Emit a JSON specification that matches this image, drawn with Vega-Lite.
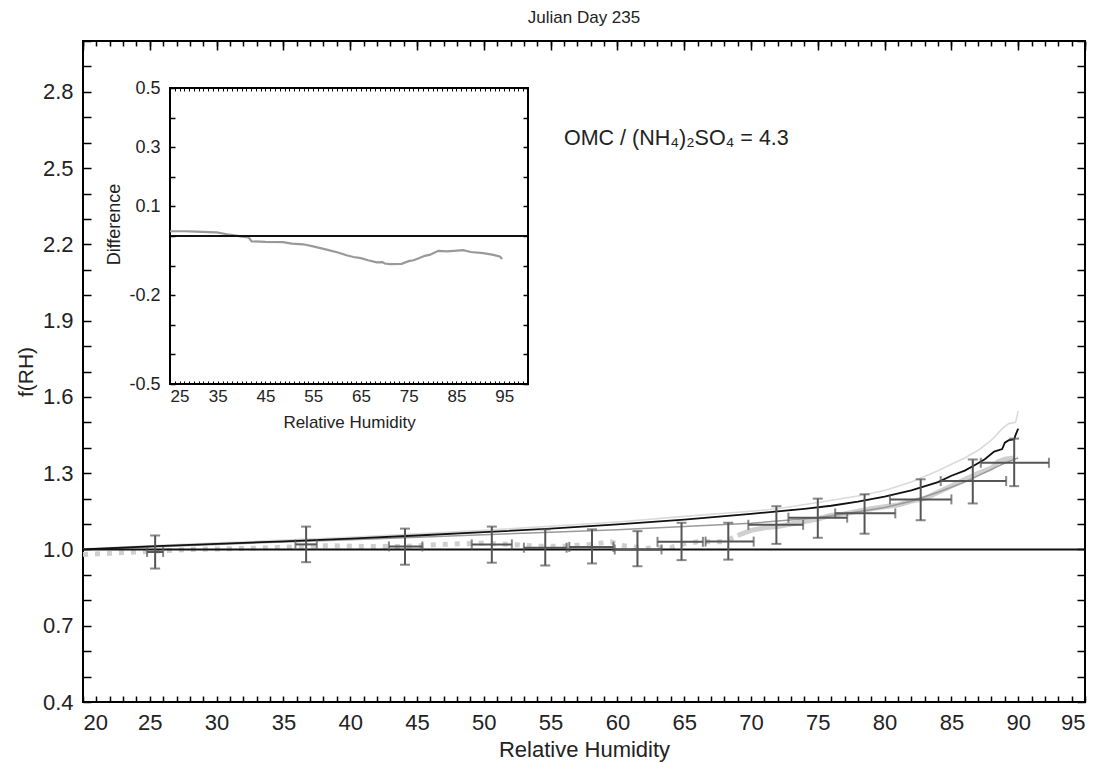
{
  "$schema": "https://vega.github.io/schema/vega-lite/v6.json",
  "padding": {"left": 15, "top": 9, "right": 5, "bottom": 2},
  "width": 1002,
  "height": 661,
  "config": {
    "font": "Liberation Sans",
    "view": {"stroke": "#000", "strokeWidth": 2},
    "axis": {"grid": false, "domain": false, "tickColor": "#000", "tickWidth": 1.5, "labelColor": "#222", "titleColor": "#222", "labelFont": "Liberation Sans", "titleFont": "Liberation Sans", "titleFontWeight": "normal"}
  },
  "title": {"text": "Julian Day 235", "fontSize": 17, "fontWeight": "normal", "offset": 13, "color": "#222", "font": "Liberation Sans"},
  "datasets": {
    "baseline": [{"x1": 20, "x2": 95, "y": 1}],
    "note": [{"rh": 56.0, "f": 2.615, "label": "OMC / (NH₄)₂SO₄ = 4.3"}],
    "model": [
      {"rh": 20, "f": 1.0}, {"rh": 25, "f": 1.012}, {"rh": 30, "f": 1.022}, {"rh": 35, "f": 1.032}, {"rh": 40, "f": 1.043}, {"rh": 45, "f": 1.055}, {"rh": 50, "f": 1.068}, {"rh": 55, "f": 1.082}, {"rh": 60, "f": 1.099}, {"rh": 65, "f": 1.117}, {"rh": 70, "f": 1.14}, {"rh": 72, "f": 1.15}, {"rh": 74, "f": 1.16}, {"rh": 76, "f": 1.172}, {"rh": 78, "f": 1.188}, {"rh": 80, "f": 1.208}, {"rh": 82, "f": 1.232}, {"rh": 84, "f": 1.265}, {"rh": 85, "f": 1.29}, {"rh": 86, "f": 1.31}, {"rh": 86.7, "f": 1.33}, {"rh": 87.5, "f": 1.355}, {"rh": 88.2, "f": 1.385}, {"rh": 88.8, "f": 1.395}, {"rh": 89.0, "f": 1.42}, {"rh": 89.3, "f": 1.43}, {"rh": 89.7, "f": 1.433}, {"rh": 89.8, "f": 1.45}, {"rh": 90.0, "f": 1.475}
    ],
    "upper": [
      {"rh": 20, "f": 1.003}, {"rh": 30, "f": 1.026}, {"rh": 40, "f": 1.048}, {"rh": 50, "f": 1.075}, {"rh": 60, "f": 1.108}, {"rh": 65, "f": 1.13}, {"rh": 70, "f": 1.15}, {"rh": 72, "f": 1.16}, {"rh": 75, "f": 1.185}, {"rh": 78, "f": 1.21}, {"rh": 80, "f": 1.232}, {"rh": 82, "f": 1.265}, {"rh": 84, "f": 1.31}, {"rh": 85, "f": 1.335}, {"rh": 86, "f": 1.36}, {"rh": 87, "f": 1.39}, {"rh": 88, "f": 1.43}, {"rh": 88.8, "f": 1.475}, {"rh": 89.3, "f": 1.495}, {"rh": 89.8, "f": 1.5}, {"rh": 90, "f": 1.545}
    ],
    "mid": [
      {"rh": 20, "f": 1.0}, {"rh": 30, "f": 1.02}, {"rh": 40, "f": 1.038}, {"rh": 50, "f": 1.058}, {"rh": 55, "f": 1.068}, {"rh": 60, "f": 1.078}, {"rh": 65, "f": 1.09}, {"rh": 70, "f": 1.103}, {"rh": 75, "f": 1.125}, {"rh": 78, "f": 1.148}, {"rh": 80, "f": 1.165}, {"rh": 82, "f": 1.19}, {"rh": 84, "f": 1.225}, {"rh": 86, "f": 1.265}, {"rh": 88, "f": 1.315}, {"rh": 89, "f": 1.34}, {"rh": 90, "f": 1.36}
    ],
    "meas_lo": [
      {"rh": 20, "f": 0.98}, {"rh": 22, "f": 0.985}, {"rh": 24, "f": 0.99}, {"rh": 26, "f": 0.995}, {"rh": 28, "f": 1.0}, {"rh": 30, "f": 1.002}, {"rh": 33, "f": 1.005}, {"rh": 36, "f": 1.01}, {"rh": 38, "f": 1.015}, {"rh": 41, "f": 1.012}, {"rh": 44, "f": 1.012}, {"rh": 47, "f": 1.02}, {"rh": 50, "f": 1.025}, {"rh": 52, "f": 1.02}, {"rh": 54, "f": 1.013}, {"rh": 56, "f": 1.013}, {"rh": 58, "f": 1.02}, {"rh": 59.5, "f": 1.03}, {"rh": 60.5, "f": 1.015}, {"rh": 62, "f": 1.005}, {"rh": 64, "f": 1.008}, {"rh": 65, "f": 1.022}, {"rh": 66, "f": 1.03}, {"rh": 68, "f": 1.03}, {"rh": 69, "f": 1.055}
    ],
    "meas_hi": [
      {"rh": 69, "f": 1.055}, {"rh": 70, "f": 1.075}, {"rh": 71, "f": 1.085}, {"rh": 72, "f": 1.09}, {"rh": 73, "f": 1.1}, {"rh": 74, "f": 1.11}, {"rh": 75, "f": 1.12}, {"rh": 76, "f": 1.135}, {"rh": 77, "f": 1.14}, {"rh": 78, "f": 1.15}, {"rh": 79, "f": 1.16}, {"rh": 80, "f": 1.168}, {"rh": 81, "f": 1.175}, {"rh": 82, "f": 1.19}, {"rh": 83, "f": 1.2}, {"rh": 84, "f": 1.225}, {"rh": 85, "f": 1.25}, {"rh": 86, "f": 1.275}, {"rh": 87, "f": 1.3}, {"rh": 88, "f": 1.32}, {"rh": 88.5, "f": 1.345}, {"rh": 89, "f": 1.355}, {"rh": 89.7, "f": 1.36}
    ],
    "eb": [
      {"rh": 25.4, "rlo": 24.8, "rhi": 26.0, "f": 0.99, "flo": 0.925, "fhi": 1.055},
      {"rh": 36.7, "rlo": 35.9, "rhi": 37.5, "f": 1.02, "flo": 0.95, "fhi": 1.09},
      {"rh": 44.1, "rlo": 42.9, "rhi": 45.4, "f": 1.012, "flo": 0.94, "fhi": 1.082},
      {"rh": 50.6, "rlo": 49.1, "rhi": 52.1, "f": 1.02, "flo": 0.948, "fhi": 1.09},
      {"rh": 54.6, "rlo": 53.0, "rhi": 56.2, "f": 1.007, "flo": 0.937, "fhi": 1.079},
      {"rh": 58.1, "rlo": 56.4, "rhi": 59.7, "f": 1.01, "flo": 0.945, "fhi": 1.079},
      {"rh": 61.5, "rlo": 59.8, "rhi": 63.3, "f": 1.0, "flo": 0.934, "fhi": 1.072},
      {"rh": 64.8, "rlo": 63.0, "rhi": 66.4, "f": 1.03, "flo": 0.958, "fhi": 1.105},
      {"rh": 68.3, "rlo": 66.6, "rhi": 70.2, "f": 1.031, "flo": 0.96, "fhi": 1.105},
      {"rh": 71.9, "rlo": 69.8, "rhi": 73.9, "f": 1.097, "flo": 1.022, "fhi": 1.17},
      {"rh": 75.0, "rlo": 72.8, "rhi": 77.2, "f": 1.125, "flo": 1.046, "fhi": 1.2},
      {"rh": 78.5, "rlo": 76.3, "rhi": 80.8, "f": 1.142, "flo": 1.062, "fhi": 1.217},
      {"rh": 82.7, "rlo": 80.4, "rhi": 85.0, "f": 1.197, "flo": 1.115, "fhi": 1.276},
      {"rh": 86.6, "rlo": 84.2, "rhi": 89.1, "f": 1.269, "flo": 1.181, "fhi": 1.354},
      {"rh": 89.7, "rlo": 87.2, "rhi": 92.3, "f": 1.341, "flo": 1.249, "fhi": 1.436}
    ],
    "frame": [{"x1": 25, "x2": 100, "y1": -0.5, "y2": 0.5}],
    "zero": [{"x1": 25, "x2": 100, "y": 0}],
    "diff": [
      {"rh": 25, "d": 0.016}, {"rh": 28, "d": 0.016}, {"rh": 30.6, "d": 0.015}, {"rh": 33, "d": 0.013}, {"rh": 34.8, "d": 0.012}, {"rh": 36.9, "d": 0.006}, {"rh": 38.5, "d": 0.002}, {"rh": 39.7, "d": -0.001}, {"rh": 41.5, "d": -0.005}, {"rh": 42.1, "d": -0.018}, {"rh": 45, "d": -0.02}, {"rh": 48.7, "d": -0.021}, {"rh": 50.5, "d": -0.026}, {"rh": 52.9, "d": -0.028}, {"rh": 55, "d": -0.035}, {"rh": 57.8, "d": -0.046}, {"rh": 60, "d": -0.055}, {"rh": 62, "d": -0.065}, {"rh": 63.4, "d": -0.071}, {"rh": 65, "d": -0.075}, {"rh": 66.5, "d": -0.082}, {"rh": 68.3, "d": -0.089}, {"rh": 69.5, "d": -0.088}, {"rh": 70, "d": -0.093}, {"rh": 71.1, "d": -0.095}, {"rh": 73.5, "d": -0.094}, {"rh": 75, "d": -0.085}, {"rh": 76, "d": -0.082}, {"rh": 77, "d": -0.076}, {"rh": 78.4, "d": -0.067}, {"rh": 79.5, "d": -0.063}, {"rh": 81.2, "d": -0.05}, {"rh": 83, "d": -0.052}, {"rh": 84.5, "d": -0.05}, {"rh": 86.4, "d": -0.048}, {"rh": 88, "d": -0.054}, {"rh": 90.6, "d": -0.058}, {"rh": 92.5, "d": -0.063}, {"rh": 94.1, "d": -0.069}, {"rh": 94.6, "d": -0.078}
    ]
  },
  "resolve": {"scale": {"x": "independent", "y": "independent"}, "axis": {"x": "independent", "y": "independent"}},
  "layer": [
    {
      "resolve": {"axis": {"x": "independent", "y": "independent"}},
      "layer": [
        {
          "data": {"name": "meas_lo"},
          "mark": {"type": "line", "color": "#cfcfcf", "strokeWidth": 5, "strokeDash": [5, 7], "strokeCap": "butt"},
          "encoding": {
            "x": {"field": "rh", "type": "quantitative", "scale": {"domain": [20, 95], "nice": false, "zero": false},
              "axis": {"orient": "bottom", "values": [20, 25, 30, 35, 40, 45, 50, 55, 60, 65, 70, 75, 80, 85, 90, 95], "ticks": false, "labelPadding": 10, "labelFontSize": 22, "labelFlush": true, "title": "Relative Humidity", "titleFontSize": 22, "titlePadding": 6}},
            "y": {"field": "f", "type": "quantitative", "scale": {"domain": [0.4, 3.0], "nice": false, "zero": false},
              "axis": {"orient": "left", "values": [0.4, 0.7, 1.0, 1.3, 1.6, 1.9, 2.2, 2.5, 2.8], "format": ".1f", "ticks": false, "labelPadding": 10, "labelFontSize": 22, "title": "f(RH)", "titleFontSize": 21, "titlePadding": 6}}
          }
        },
        {
          "data": {"name": "meas_hi"},
          "mark": {"type": "line", "color": "#cfcfcf", "strokeWidth": 5},
          "encoding": {
            "x": {"field": "rh", "type": "quantitative", "axis": null},
            "y": {"field": "f", "type": "quantitative", "axis": null}
          }
        },
        {
          "data": {"name": "upper"},
          "mark": {"type": "line", "color": "#dadada", "strokeWidth": 1.6},
          "encoding": {
            "x": {"field": "rh", "type": "quantitative",
              "axis": {"orient": "top", "values": [20,21,22,23,24,25,26,27,28,29,30,31,32,33,34,35,36,37,38,39,40,41,42,43,44,45,46,47,48,49,50,51,52,53,54,55,56,57,58,59,60,61,62,63,64,65,66,67,68,69,70,71,72,73,74,75,76,77,78,79,80,81,82,83,84,85,86,87,88,89,90,91,92,93,94,95], "labels": false, "tickSize": -5, "title": null}},
            "y": {"field": "f", "type": "quantitative",
              "axis": {"orient": "right", "values": [0.4,0.5,0.6,0.7,0.8,0.9,1.0,1.1,1.2,1.3,1.4,1.5,1.6,1.7,1.8,1.9,2.0,2.1,2.2,2.3,2.4,2.5,2.6,2.7,2.8,2.9,3.0], "labels": false, "tickSize": -8, "title": null}}
          }
        },
        {
          "data": {"name": "mid"},
          "mark": {"type": "line", "color": "#9a9a9a", "strokeWidth": 1.5},
          "encoding": {
            "x": {"field": "rh", "type": "quantitative",
              "axis": {"orient": "top", "values": [20, 25, 30, 35, 40, 45, 50, 55, 60, 65, 70, 75, 80, 85, 90, 95], "labels": false, "tickSize": -9, "title": null}},
            "y": {"field": "f", "type": "quantitative", "axis": null}
          }
        },
        {
          "data": {"name": "model"},
          "mark": {"type": "line", "color": "#111", "strokeWidth": 1.8},
          "encoding": {
            "x": {"field": "rh", "type": "quantitative",
              "axis": {"orient": "bottom", "values": [20,21,22,23,24,25,26,27,28,29,30,31,32,33,34,35,36,37,38,39,40,41,42,43,44,45,46,47,48,49,50,51,52,53,54,55,56,57,58,59,60,61,62,63,64,65,66,67,68,69,70,71,72,73,74,75,76,77,78,79,80,81,82,83,84,85,86,87,88,89,90,91,92,93,94,95], "labels": false, "tickSize": -6, "title": null}},
            "y": {"field": "f", "type": "quantitative",
              "axis": {"orient": "left", "values": [0.4,0.5,0.6,0.7,0.8,0.9,1.0,1.1,1.2,1.3,1.4,1.5,1.6,1.7,1.8,1.9,2.0,2.1,2.2,2.3,2.4,2.5,2.6,2.7,2.8,2.9,3.0], "labels": false, "tickSize": -8, "title": null}}
          }
        },
        {
          "data": {"name": "baseline"},
          "mark": {"type": "rule", "color": "#111", "strokeWidth": 2},
          "encoding": {
            "x": {"field": "x1", "type": "quantitative", "axis": null},
            "x2": {"field": "x2"},
            "y": {"field": "y", "type": "quantitative", "axis": null}
          }
        },
        {
          "data": {"name": "eb"},
          "mark": {"type": "errorbar", "ticks": true, "size": 10, "thickness": 2, "color": "#555"},
          "encoding": {
            "x": {"field": "rlo", "type": "quantitative", "axis": null},
            "x2": {"field": "rhi"},
            "y": {"field": "f", "type": "quantitative", "axis": null}
          }
        },
        {
          "data": {"name": "eb"},
          "mark": {"type": "errorbar", "ticks": true, "size": 10, "thickness": 2, "color": "#555"},
          "encoding": {
            "y": {"field": "flo", "type": "quantitative", "axis": null},
            "y2": {"field": "fhi"},
            "x": {"field": "rh", "type": "quantitative", "axis": null}
          }
        },
        {
          "data": {"name": "note"},
          "mark": {"type": "text", "align": "left", "baseline": "middle", "fontSize": 21.5, "color": "#222", "font": "Liberation Sans"},
          "encoding": {
            "x": {"field": "rh", "type": "quantitative", "axis": null},
            "y": {"field": "f", "type": "quantitative", "axis": null},
            "text": {"field": "label"}
          }
        }
      ]
    },
    {
      "resolve": {"axis": {"x": "independent", "y": "independent"}},
      "layer": [
        {
          "data": {"name": "frame"},
          "mark": {"type": "rect", "fill": "white", "stroke": "#000", "strokeWidth": 2},
          "encoding": {
            "x": {"field": "x1", "type": "quantitative", "scale": {"domain": [25, 100], "range": [87, 445], "nice": false, "zero": false},
              "axis": {"orient": "bottom", "offset": -318, "zindex": 2, "values": [25, 35, 45, 55, 65, 75, 85, 95], "ticks": false, "labelPadding": 4, "labelFontSize": 17, "title": "Relative Humidity", "titleFontSize": 17, "titlePadding": 10}},
            "x2": {"field": "x2"},
            "y": {"field": "y1", "type": "quantitative", "scale": {"domain": [-0.5, 0.5], "range": [343, 47], "nice": false, "zero": false},
              "axis": {"orient": "left", "offset": -87, "zindex": 2, "values": [-0.5, -0.2, 0.1, 0.3, 0.5], "labelExpr": "datum.value < 0 ? '-' + format(-datum.value, '.1f') : format(datum.value, '.1f')", "ticks": false, "labelPadding": 10, "labelFontSize": 18, "title": "Difference", "titleFontSize": 18, "titleX": -47, "titleY": 183, "titleAngle": -90, "titleAlign": "center", "titleBaseline": "bottom"}},
            "y2": {"field": "y2"}
          }
        },
        {
          "data": {"name": "diff"},
          "mark": {"type": "line", "color": "#999", "strokeWidth": 2.2},
          "encoding": {
            "x": {"field": "rh", "type": "quantitative",
              "axis": {"orient": "bottom", "offset": -318, "zindex": 2, "values": [25,26,27,28,29,30,31,32,33,34,35,36,37,38,39,40,41,42,43,44,45,46,47,48,49,50,51,52,53,54,55,56,57,58,59,60,61,62,63,64,65,66,67,68,69,70,71,72,73,74,75,76,77,78,79,80,81,82,83,84,85,86,87,88,89,90,91,92,93,94,95,96,97,98,99,100], "labels": false, "tickSize": -3, "tickWidth": 1, "title": null}},
            "y": {"field": "d", "type": "quantitative",
              "axis": {"orient": "left", "offset": -87, "zindex": 2, "values": [-0.5,-0.4,-0.3,-0.2,-0.1,0,0.1,0.2,0.3,0.4,0.5], "labels": false, "tickSize": -5, "title": null}}
          }
        },
        {
          "data": {"name": "zero"},
          "mark": {"type": "rule", "color": "#111", "strokeWidth": 2},
          "encoding": {
            "x": {"field": "x1", "type": "quantitative",
              "axis": {"orient": "top", "offset": -47, "zindex": 2, "values": [25,26,27,28,29,30,31,32,33,34,35,36,37,38,39,40,41,42,43,44,45,46,47,48,49,50,51,52,53,54,55,56,57,58,59,60,61,62,63,64,65,66,67,68,69,70,71,72,73,74,75,76,77,78,79,80,81,82,83,84,85,86,87,88,89,90,91,92,93,94,95,96,97,98,99,100], "labels": false, "tickSize": -3, "tickWidth": 1, "title": null}},
            "x2": {"field": "x2"},
            "y": {"field": "y", "type": "quantitative",
              "axis": {"orient": "right", "offset": -557, "zindex": 2, "values": [-0.5,-0.4,-0.3,-0.2,-0.1,0,0.1,0.2,0.3,0.4,0.5], "labels": false, "tickSize": -5, "title": null}}
          }
        }
      ]
    }
  ]
}
